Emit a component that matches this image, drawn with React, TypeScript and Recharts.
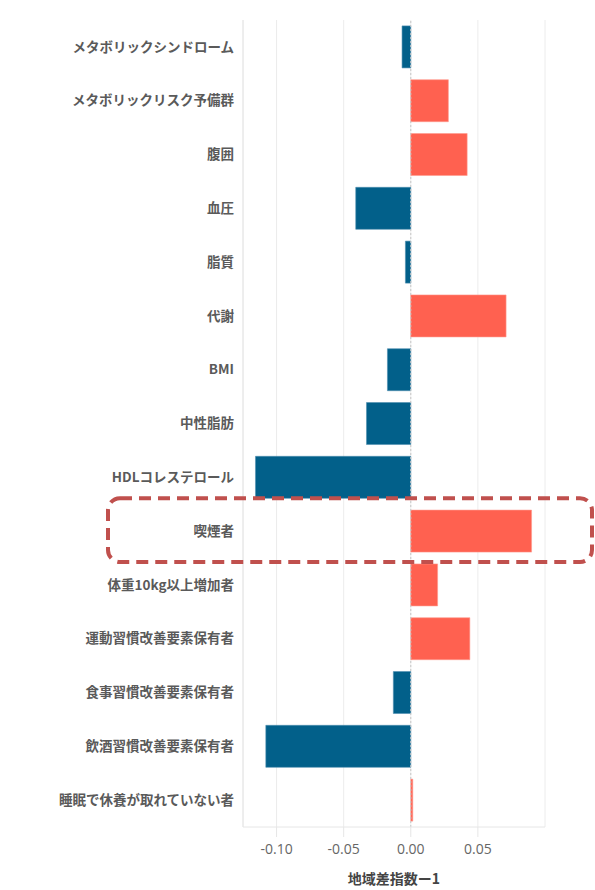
import React from 'react';
import { BarChart, Bar, XAxis, YAxis, CartesianGrid, ReferenceLine, Cell } from 'recharts';

const categories = [
  'メタボリックシンドローム',
  'メタボリックリスク予備群',
  '腹囲',
  '血圧',
  '脂質',
  '代謝',
  'BMI',
  '中性脂肪',
  'HDLコレステロール',
  '喫煙者',
  '体重10kg以上増加者',
  '運動習慣改善要素保有者',
  '食事習慣改善要素保有者',
  '飲酒習慣改善要素保有者',
  '睡眠で休養が取れていない者',
];

const values = [
  -0.0065, 0.028, 0.042, -0.041, -0.004, 0.071, -0.0174, -0.033, -0.1157, 0.09, 0.02, 0.044, -0.013,
  -0.108, 0.0015,
];

const xTicks = [-0.1, -0.05, 0, 0.05];
const xDomain = [-0.125, 0.1];
const highlighted = '喫煙者';

const POS = '#FF6150';
const NEG = '#02608A';

const data = categories.map((name, i) => ({ name, value: values[i] }));

const W = 595;
const H = 890;
const M = { top: 20, right: 50, bottom: 0, left: 0 };
const Y_W = 243;
const X_H = 63;

export default function App() {
  const plotTop = M.top;
  const plotH = H - M.top - M.bottom - X_H;
  const band = plotH / categories.length;
  const hi = categories.indexOf(highlighted);
  const boxY = plotTop + hi * band - 6;
  const boxH = band + 10;
  return (
    <div style={{ position: 'absolute', left: 0, top: 0, width: W, height: H, background: '#fff' }}>
      <BarChart
        width={W}
        height={H}
        data={data}
        layout="vertical"
        margin={M}
        barCategoryGap="11%"
      >
        <CartesianGrid horizontal={false} vertical stroke="#ececec" strokeWidth={1} />
        <XAxis
          type="number"
          domain={xDomain}
          ticks={xTicks}
          allowDataOverflow
          tickFormatter={(v: number) => v.toFixed(2)}
          height={X_H}
          axisLine={{ stroke: '#e6e6e6' }}
          tickLine={{ stroke: '#e6e6e6' }}
          tickSize={10}
          tickMargin={7}
          tick={{ fill: '#666', fontSize: 14, fontFamily: 'Open Sans, Noto Sans, sans-serif' }}
          label={{
            value: '地域差指数ー1',
            position: 'insideBottom',
            offset: 6,
            fill: '#444',
            fontSize: 14,
            fontWeight: 'bold',
            fontFamily: 'Noto Sans CJK JP, sans-serif',
          }}
        />
        <YAxis
          type="category"
          dataKey="name"
          width={Y_W}
          axisLine={{ stroke: '#e6e6e6' }}
          tickLine={false}
          tickSize={0}
          tickMargin={9}
          interval={0}
          tick={{ fill: '#5a5a5a', fontSize: 13.5, fontWeight: 'bold', fontFamily: 'Noto Sans CJK JP, sans-serif' }}
        />
        <ReferenceLine x={0} stroke="#c8c8c8" strokeDasharray="2 2" />
        <Bar dataKey="value" isAnimationActive={false}>
          {data.map((d, i) => (
            <Cell key={i} fill={d.value >= 0 ? POS : NEG} stroke={d.value >= 0 ? '#ff9a8e' : '#4f8fb0'} strokeWidth={0.6} />
          ))}
        </Bar>
      </BarChart>
      <svg width={W} height={H} style={{ position: 'absolute', left: 0, top: 0, pointerEvents: 'none' }}>
        <rect
          x={108}
          y={boxY}
          width={484}
          height={boxH}
          rx={12}
          ry={12}
          fill="none"
          stroke="#C0504D"
          strokeWidth={4}
          strokeDasharray="12 7"
        />
      </svg>
    </div>
  );
}
